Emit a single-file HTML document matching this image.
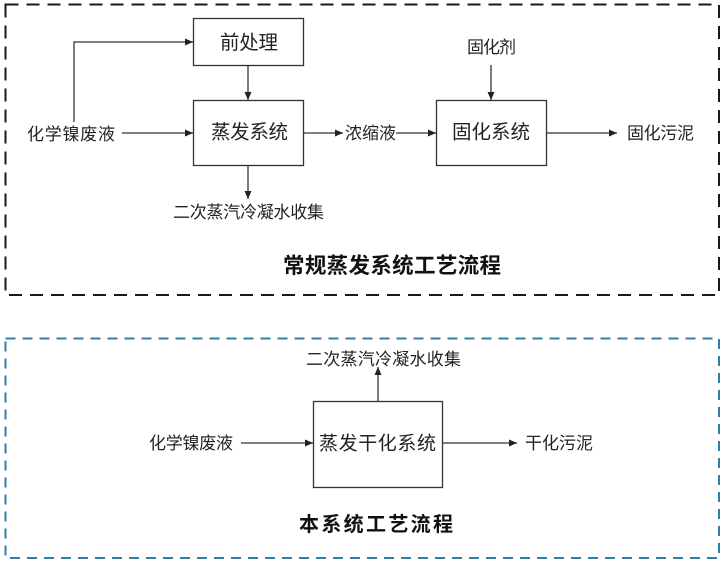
<!DOCTYPE html>
<html><head><meta charset="utf-8"><style>
html,body{margin:0;padding:0;background:#fff;}
svg{display:block;}
text{font-family:"Liberation Sans","Noto Sans CJK SC",sans-serif;fill:#222;}
.t{font-size:17px;}
.b{font-size:19.5px;}
.h{font-weight:bold;fill:#111;}
</style></head><body>
<svg width="728" height="567" viewBox="0 0 728 567" xmlns="http://www.w3.org/2000/svg">
<defs>
<marker id="a" markerWidth="8" markerHeight="7" refX="8" refY="3.5" orient="auto" markerUnits="userSpaceOnUse">
<path d="M0,0 L8,3.5 L0,7 z" fill="#222"/>
</marker>
</defs>
<rect x="0" y="0" width="728" height="567" fill="#fff"/>
<!-- top dashed frame -->
<rect x="5.5" y="4.5" width="713.5" height="290.5" fill="none" stroke="#1a1a1a" stroke-width="2" stroke-dasharray="13,8"/>
<!-- bottom dashed frame -->
<rect x="5.5" y="338.5" width="713.5" height="219.5" fill="none" stroke="#2f7fad" stroke-width="2" stroke-dasharray="10,7"/>

<g stroke="#333" stroke-width="1.3" fill="#fff">
<rect x="193.5" y="18.5" width="110" height="47"/>
<rect x="193.5" y="100.5" width="110" height="65"/>
<rect x="436.5" y="100.5" width="110" height="65"/>
<rect x="313.5" y="401.5" width="129" height="86"/>
</g>

<g stroke="#333" stroke-width="1.3" fill="none">
<path d="M74,122 V42 H193" marker-end="url(#a)"/>
<path d="M122,133 H193" marker-end="url(#a)"/>
<path d="M248,66 V100" marker-end="url(#a)"/>
<path d="M248,166 V199" marker-end="url(#a)"/>
<path d="M304,133 H343" marker-end="url(#a)"/>
<path d="M396,133 H436" marker-end="url(#a)"/>
<path d="M491,65 V100" marker-end="url(#a)"/>
<path d="M547,133 H617" marker-end="url(#a)"/>
<path d="M241,443 H313" marker-end="url(#a)"/>
<path d="M443,443 H517" marker-end="url(#a)"/>
<path d="M378,401 V367" marker-end="url(#a)"/>
</g>

<text class="b" x="220" y="49" textLength="58" lengthAdjust="spacing">前处理</text>
<text class="b" x="211" y="138.5" textLength="77" lengthAdjust="spacing">蒸发系统</text>
<text class="b" x="452" y="138.5" textLength="78" lengthAdjust="spacing">固化系统</text>
<text class="t" x="27" y="140" textLength="88" lengthAdjust="spacing">化学镍废液</text>
<text class="t" x="345" y="139" textLength="51" lengthAdjust="spacing">浓缩液</text>
<text class="t" x="467" y="53" textLength="49" lengthAdjust="spacing">固化剂</text>
<text class="t" x="627" y="139" textLength="67" lengthAdjust="spacing">固化污泥</text>
<text class="t" x="173" y="218" textLength="151" lengthAdjust="spacing">二次蒸汽冷凝水收集</text>
<text class="h" x="283" y="273" style="font-size:21.5px" textLength="218" lengthAdjust="spacing">常规蒸发系统工艺流程</text>

<text class="t" x="306" y="365" textLength="155" lengthAdjust="spacing">二次蒸汽冷凝水收集</text>
<text class="t" x="149" y="449" textLength="84" lengthAdjust="spacing">化学镍废液</text>
<text class="b" x="319" y="449.5" style="font-size:19px" textLength="117" lengthAdjust="spacing">蒸发干化系统</text>
<text class="t" x="525" y="449" textLength="68" lengthAdjust="spacing">干化污泥</text>
<text class="h" x="299" y="531" style="font-size:20px" textLength="154" lengthAdjust="spacing">本系统工艺流程</text>
</svg>
</body></html>
